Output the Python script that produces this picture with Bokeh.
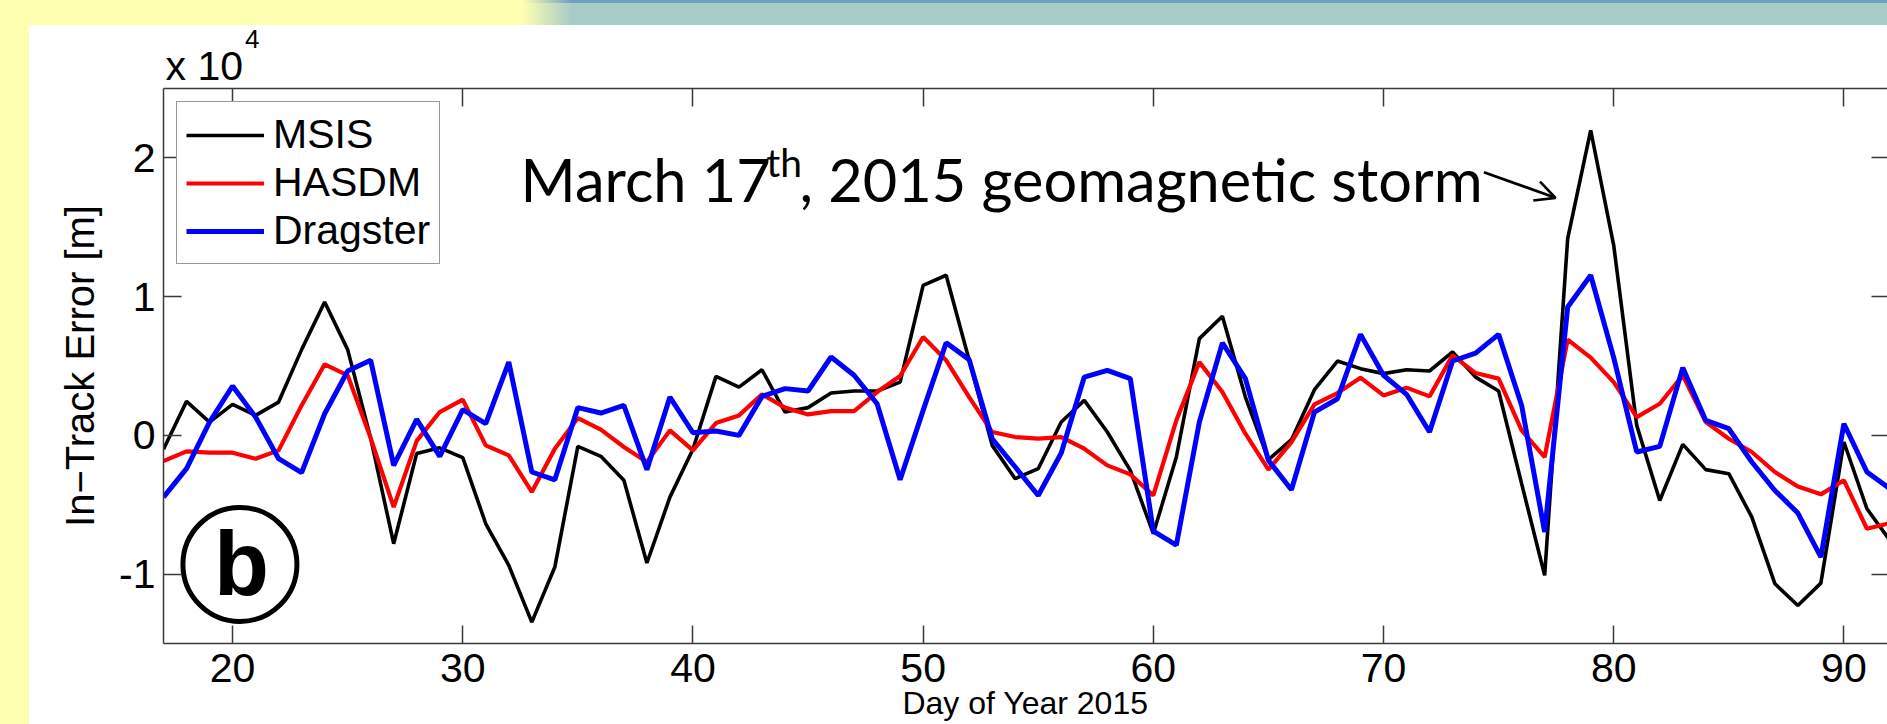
import math
from bokeh.plotting import figure
from bokeh.models import (Range1d, LinearAxis, FixedTicker, Label, Arrow, OpenHead,
                          Legend, LegendItem, Title)
from bokeh.embed import file_html
from bokeh.resources import INLINE

# ---------------- data (In-Track error, metres) ----------------
days = list(range(17, 93))
msis = [-1000, 2450, 960, 2230, 1440, 2400, 6180, 9610, 6180, -200,
        -7810, -1300, -900, -1600, -6370, -9370, -13460, -9490, -790, -1510,
        -3240, -9200, -4450, -1000, 4250, 3480, 4730, 1680, 2000, 3050,
        3200, 3200, 3840, 10810, 11540, 5410, -720, -3120, -2400, 960,
        2520, 240, -2520, -7090, -1560, 6970, 8580, 2760, -1750, -310,
        3290, 5360, 4810, 4450, 4730, 4640, 6010, 4200, 3200, -3480,
        -10090, 14180, 21990, 13700, 720, -4690, -650, -2470, -2760, -5890,
        -10690, -12260, -10650, -480, -5290, -7570]
hasdm = [-1850, -1150, -1250, -1250, -1680, -1080, 2160, 5120, 4330, -200,
         -5170, -400, 1680, 2570, -720, -1440, -4080, -960, 1250, 410,
         -840, -1920, 360, -1080, 890, 1440, 2960, 2000, 1510, 1750,
         1750, 3120, 4280, 7090, 5410, 2760, 240, -120, -240, -120,
         -960, -2160, -2810, -4330, 1080, 5280, 3120, 120, -2470, -480,
         2230, 3050, 4160, 2880, 3440, 2810, 5770, 4490, 4090, 360,
         -1560, 6900, 5600, 3840, 1320, 2280, 4330, 960, -240, -1200,
         -2640, -3680, -4250, -3240, -6730, -6320]
dragster = [-4450, -2400, 960, 3560, 1320, -1680, -2690, 1560, 4640, 5410,
            -2160, 1150, -1510, 1850, 840, 5280, -2640, -3200, 2000, 1610,
            2160, -2470, 2760, 190, 310, 0, 2810, 3370, 3200, 5650,
            4330, 2280, -3200, 1800, 6680, 5460, -240, -2280, -4330, -1270,
            4200, 4690, 4090, -6900, -7910, 960, 6660, 4090, -1800, -3920,
            1680, 2640, 7280, 4330, 2960, 240, 5360, 5930, 7280, 2160,
            -6970, 9250, 11540, 5600, -1200, -790, 4880, 1080, 480, -1920,
            -3970, -5600, -8770, 840, -2640, -3850]

series_names = ["MSIS", "HASDM", "Dragster"]
series_colors = ["#000000", "#ff0000", "#0000ff"]
series_widths = [3.6, 4.2, 5.0]

x_ticks = [20, 30, 40, 50, 60, 70, 80, 90]
y_ticks = [-10000, 0, 10000, 20000]
y_tick_labels = ["-1", "0", "1", "2"]

AX = "#3a3a3a"
FONT = "Liberation Sans"
FS = "41px"

p = figure(width=1887, height=724, output_backend="svg", toolbar_location=None,
           x_range=Range1d(17, 91.894), y_range=Range1d(-15000, 25000),
           min_border_left=163, min_border_right=0, min_border_top=88,
           min_border_bottom=81)
p.xgrid.visible = False
p.ygrid.visible = False
p.outline_line_color = None
p.background_fill_color = "white"
p.border_fill_color = None
p.styles = {
    "background": (
        "linear-gradient(#ffffff, #ffffff) 28.6px 25px / calc(100% - 28.6px) calc(100% - 25px) no-repeat, "
        "linear-gradient(90deg, rgba(167,203,198,0) 0px, rgba(167,203,198,1) 50px) 522px 3px / calc(100% - 522px) 22px no-repeat, "
        "linear-gradient(90deg, rgba(110,160,195,0) 0px, rgba(110,160,195,1) 50px) 522px 0px / calc(100% - 522px) 3px no-repeat, "
        "#ffffb2"
    )
}


def style_axis(ax, tick_in):
    ax.axis_line_color = AX
    ax.axis_line_width = 1.5
    ax.major_tick_line_color = AX
    ax.major_tick_line_width = 1.5
    ax.major_tick_in = tick_in
    ax.major_tick_out = 0
    ax.minor_tick_in = 0
    ax.minor_tick_out = 0
    ax.minor_tick_line_color = None
    ax.major_label_text_font = FONT
    ax.major_label_text_font_size = FS
    ax.major_label_text_color = "black"


xb = p.below[0]
xb.ticker = FixedTicker(ticks=x_ticks)
style_axis(xb, 18)
xb.major_label_standoff = 10
xb.axis_label = "Day of Year 2015"
xb.axis_label_text_font = FONT
xb.axis_label_text_font_size = "32px"
xb.axis_label_text_font_style = "normal"
xb.axis_label_text_color = "black"
xb.axis_label_standoff = 0

yl = p.left[0]
yl.ticker = FixedTicker(ticks=y_ticks)
yl.major_label_overrides = {t: s for t, s in zip(y_ticks, y_tick_labels)}
style_axis(yl, 18)
yl.major_label_standoff = 8

xt = LinearAxis(ticker=FixedTicker(ticks=x_ticks))
style_axis(xt, 18)
xt.major_label_overrides = {t: "" for t in x_ticks}
xt.major_label_text_font_size = "10px"
xt.major_label_text_color = None
xt.major_label_standoff = 0
p.add_layout(xt, "above")

yr = LinearAxis(ticker=FixedTicker(ticks=y_ticks))
style_axis(yr, 16)
yr.axis_line_color = None
yr.major_label_overrides = {t: "" for t in y_ticks}
yr.major_label_text_font_size = "10px"
yr.major_label_text_color = None
yr.major_label_standoff = 0
p.add_layout(yr, "right")

# side titles: y label, and the "x 10^4" multiplier
p.add_layout(Title(text="In\u2212Track Error [m]", align="center", standoff=30,
                   text_font=FONT, text_font_size="40px", text_font_style="normal",
                   text_color="black"), "left")
p.add_layout(Title(text="x 10", align="left", offset=2, standoff=0,
                   text_font=FONT, text_font_size=FS, text_font_style="normal",
                   text_color="black"), "above")
p.add_layout(Title(text="4", align="left", offset=81.6, standoff=-15,
                   text_font=FONT, text_font_size="26px", text_font_style="normal",
                   text_color="black"), "above")

renderers = []
for ys, c, w in zip([msis, hasdm, dragster], series_colors, series_widths):
    renderers.append(p.line(days, ys, line_color=c, line_width=w))

legend = Legend(items=[LegendItem(label=n, renderers=[r]) for n, r in zip(series_names, renderers)],
                location="top_left", margin=13, padding=9, spacing=1,
                glyph_width=78, glyph_height=40, label_height=40, label_standoff=9,
                label_text_font=FONT, label_text_font_size=FS, label_text_color="black",
                border_line_color="#333333", border_line_width=1.5,
                background_fill_color="white", background_fill_alpha=1.0)
p.add_layout(legend)

# ---------------- annotations ----------------
ANN_FONT = "Lato"
ANN_FS = "59.5px"
p.add_layout(Label(x=32.51, y=18490, text="March 17", text_font=ANN_FONT,
                   text_font_size=ANN_FS, text_baseline="alphabetic", text_color="black"))
p.add_layout(Label(x=43.19, y=19670, text="th", text_font=ANN_FONT,
                   text_font_size="39px", text_baseline="alphabetic", text_color="black"))
p.add_layout(Label(x=44.63, y=18490, text=", 2015 geomagnetic storm", text_font=ANN_FONT,
                   text_font_size=ANN_FS, text_baseline="alphabetic", text_color="black"))
p.add_layout(Arrow(end=OpenHead(size=20, line_width=2.7, line_color="black"),
                   x_start=74.36, y_start=18970, x_end=77.47, y_end=17120,
                   line_width=2.7, line_color="black"))

p.scatter([20.32], [-9300], marker="circle", size=114, fill_color="white",
          line_color="black", line_width=5)
p.add_layout(Label(x=20.39, y=-9300, text="b", text_align="center", text_baseline="middle",
                   text_font=FONT, text_font_style="bold", text_font_size="90px",
                   text_color="black"))

open("out.html", "w").write(file_html(p, INLINE))
